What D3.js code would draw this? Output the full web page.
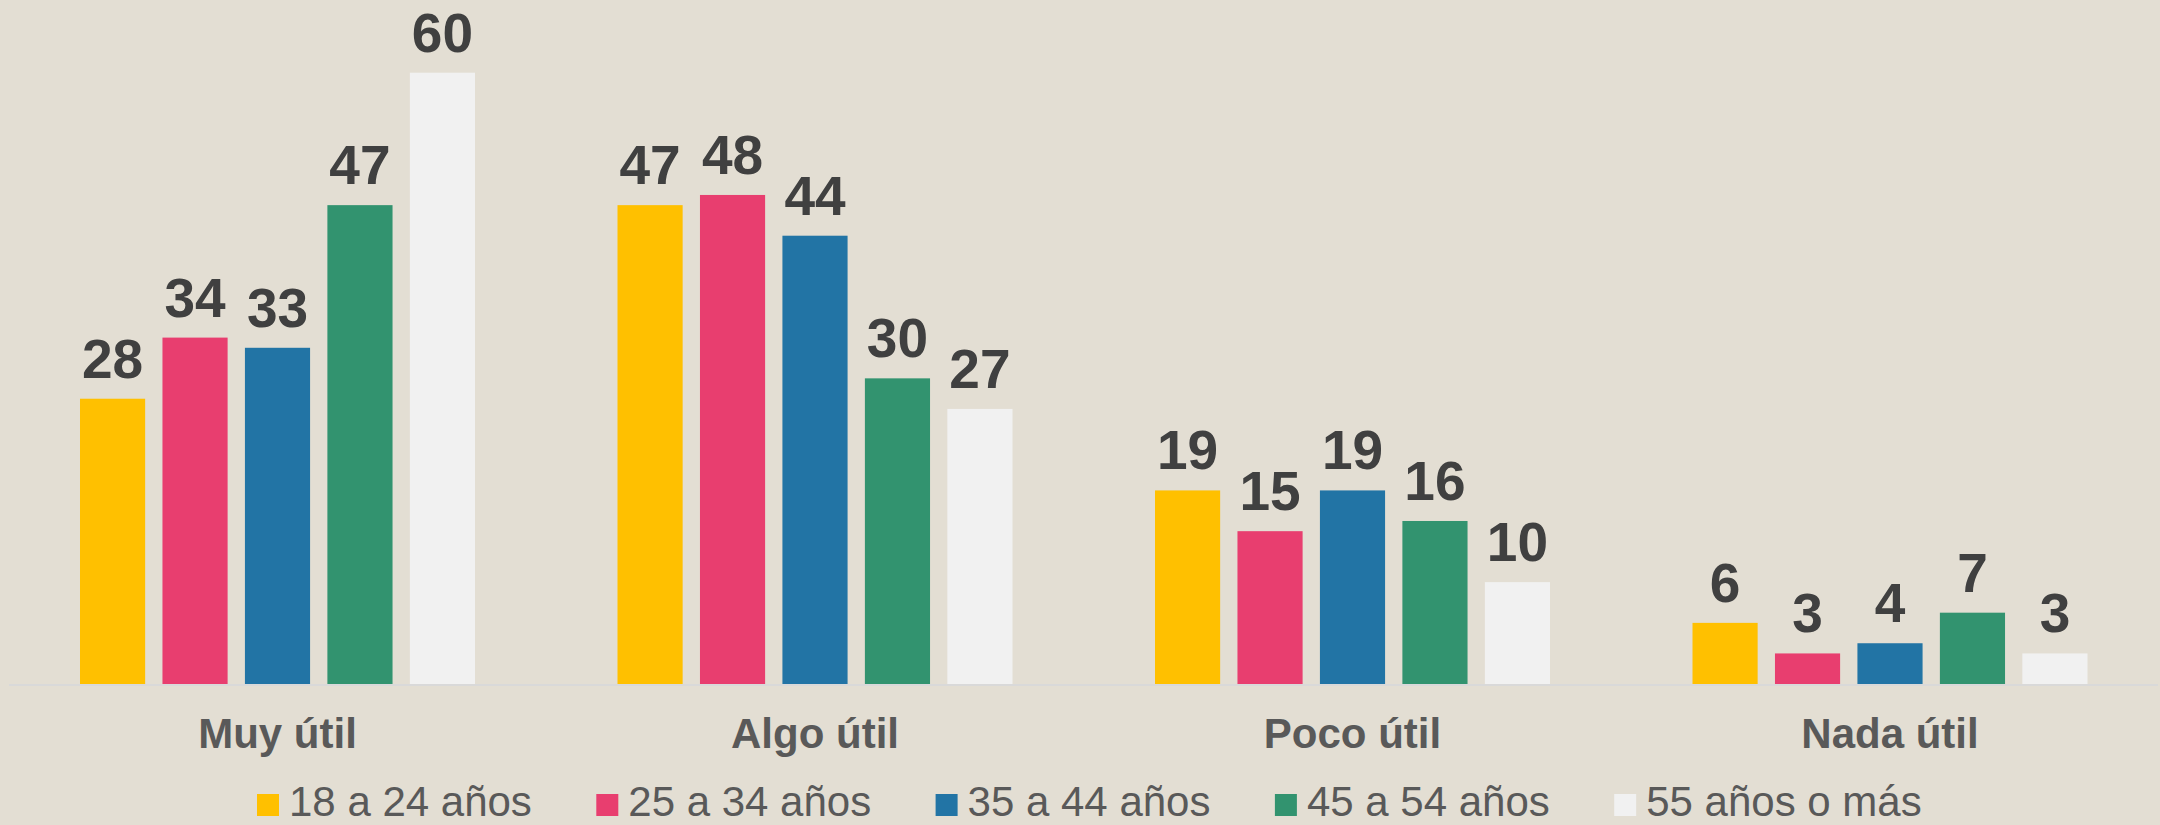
<html>
<head>
	<title>Utilidad por edad</title>
	<script src="https://d3js.org/d3.v7.min.js"></script>
	<style type="text/css">
		body {
			margin: 0;
			padding: 0;
			background: #E3DED3;
			overflow: hidden;
		}
	</style>
</head>
<body>

<div id="chart"></div>

<script>

// data
var categories = ["Muy útil", "Algo útil", "Poco útil", "Nada útil"];
var series = ["18 a 24 años", "25 a 34 años", "35 a 44 años", "45 a 54 años", "55 años o más"];
var muyUtil  = [28, 34, 33, 47, 60];
var algoUtil = [47, 48, 44, 30, 27];
var pocoUtil = [19, 15, 19, 16, 10];
var nadaUtil = [6, 3, 4, 7, 3];
var colors = ["#FFC000", "#E83E6F", "#2274A5", "#32936F", "#F1F1F1"];

var values = [muyUtil, algoUtil, pocoUtil, nadaUtil];

var W = 2160,
	H = 825,
	baseY = 684;

var svg = d3.select("#chart").append("svg")
	.attr("width", W)
	.attr("height", H);

var x0 = d3.scaleBand()
	.domain(categories)
	.range([8.75, 2158.75]);

var x1 = d3.scaleBand()
	.domain(series)
	.range([71.25, 466.25])
	.paddingInner(0.21);

var y = d3.scaleLinear()
	.domain([0, 60])
	.range([baseY, 72.7]);

var groups = svg.selectAll("g.grp")
	.data(categories)
	.enter().append("g")
	.attr("class", "grp")
	.attr("transform", function(d) { return "translate(" + x0(d) + ",0)"; });

groups.selectAll("rect")
	.data(function(d, i) { return values[i].map(function(v, j) { return {s: series[j], v: v, c: colors[j]}; }); })
	.enter().append("rect")
	.attr("x", function(d) { return x1(d.s); })
	.attr("y", function(d) { return y(d.v); })
	.attr("width", x1.bandwidth())
	.attr("height", function(d) { return baseY - y(d.v); })
	.attr("fill", function(d) { return d.c; });

groups.selectAll("text.val")
	.data(function(d, i) { return values[i].map(function(v, j) { return {s: series[j], v: v}; }); })
	.enter().append("text")
	.attr("class", "val")
	.attr("x", function(d) { return x1(d.s) + x1.bandwidth() / 2; })
	.attr("y", function(d) { return y(d.v) - 21; })
	.attr("text-anchor", "middle")
	.attr("font-family", "Liberation Sans, Arial, sans-serif")
	.attr("font-weight", "bold")
	.attr("font-size", "55px")
	.attr("fill", "#404040")
	.text(function(d) { return d.v; });

// baseline
svg.append("line")
	.attr("x1", 9)
	.attr("x2", 2158)
	.attr("y1", baseY + 1)
	.attr("y2", baseY + 1)
	.attr("stroke", "#D9D9D9")
	.attr("stroke-width", 2);

// category labels
var xAxis = d3.axisBottom(x0).tickSize(0).tickPadding(0);
var ax = svg.append("g")
	.attr("transform", "translate(0," + 748 + ")")
	.call(xAxis);
ax.select(".domain").remove();
ax.selectAll("text")
	.attr("dy", 0)
	.attr("font-family", "Liberation Sans, Arial, sans-serif")
	.attr("font-weight", "bold")
	.attr("font-size", "42px")
	.attr("fill", "#595959");

// legend
var legend = svg.selectAll("g.leg")
	.data(series)
	.enter().append("g")
	.attr("class", "leg")
	.attr("transform", function(d, i) { return "translate(" + (257 + i * 339.3) + ",816)"; });

legend.append("rect")
	.attr("x", 0)
	.attr("y", -22)
	.attr("width", 22)
	.attr("height", 22)
	.attr("fill", function(d, i) { return colors[i]; });

legend.append("text")
	.attr("x", 32)
	.attr("y", 0)
	.attr("font-family", "Liberation Sans, Arial, sans-serif")
	.attr("font-size", "42px")
	.attr("fill", "#595959")
	.text(function(d) { return d; });

</script>
</body>
</html>
